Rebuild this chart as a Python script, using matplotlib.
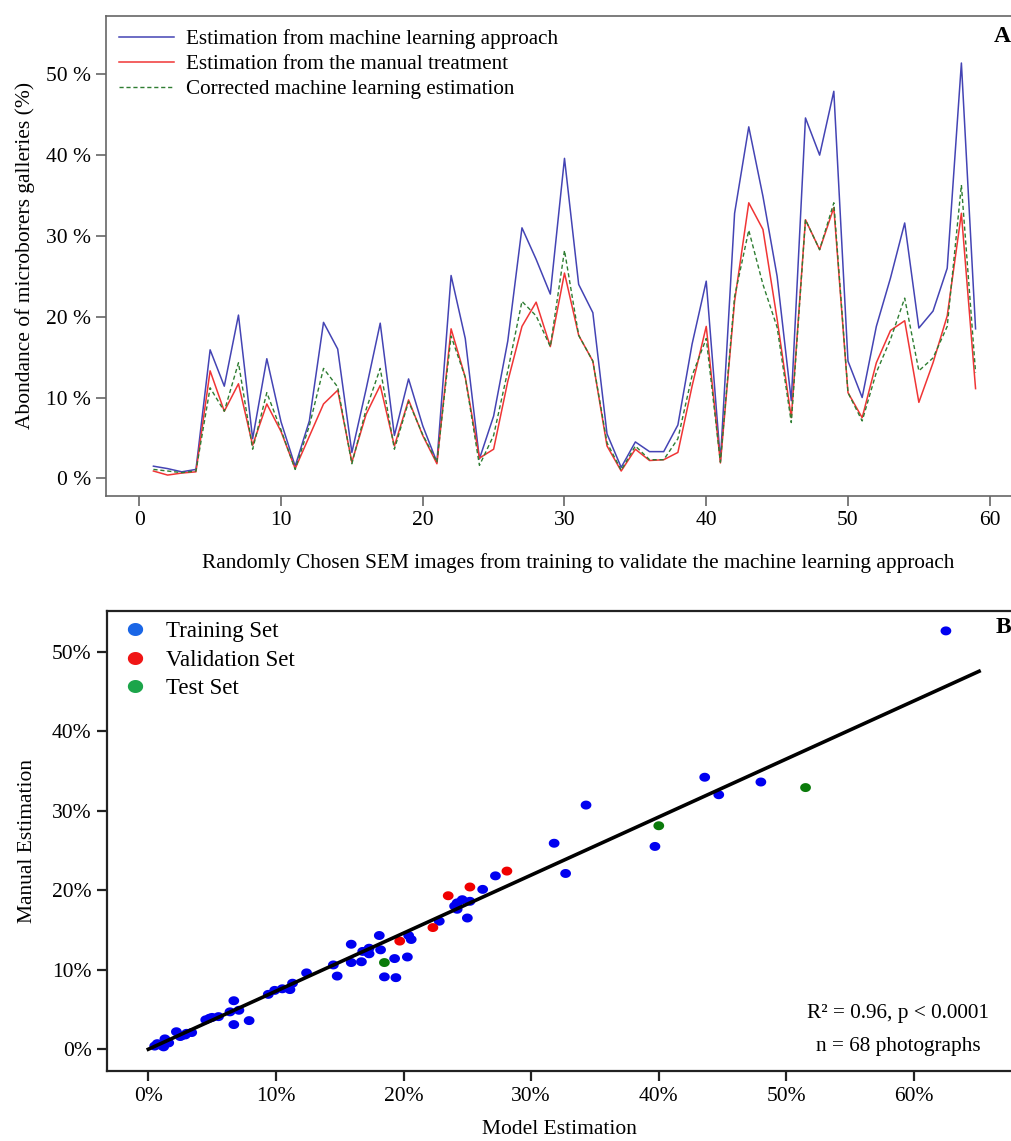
import matplotlib
matplotlib.use("Agg")
import numpy as np
import matplotlib.pyplot as plt
from matplotlib.ticker import FuncFormatter
from matplotlib.lines import Line2D

plt.rcParams['font.family'] = ['Liberation Serif', 'DejaVu Serif']

# ---------------- Panel A data ----------------
image_idx = list(range(1, 60))
ml_est = [1.5, 1.2, 0.8, 1.1, 15.9, 11.4, 20.2, 4.9, 14.8, 7.0,
          1.5, 7.1, 19.3, 16.0, 3.2, 11.0, 19.2, 5.3, 12.3, 6.5,
          2.0, 25.1, 17.3, 2.4, 7.7, 17.0, 31.0, 27.1, 22.8, 39.6,
          24.0, 20.5, 5.5, 1.35, 4.5, 3.3, 3.3, 6.6, 16.6, 24.4,
          2.2, 32.8, 43.5, 34.9, 25.0, 9.6, 44.6, 40.0, 47.9, 14.5,
          10.0, 18.8, 24.8, 31.6, 18.6, 20.7, 26.0, 51.4, 18.5]
manual_est = [0.9, 0.4, 0.65, 0.8, 13.3, 8.3, 11.7, 4.1, 9.2, 5.8,
              1.2, 5.2, 9.2, 10.9, 2.0, 7.9, 11.5, 4.0, 9.7, 5.3,
              1.8, 18.5, 12.5, 2.5, 3.6, 12.0, 18.8, 21.8, 16.3, 25.4,
              17.7, 14.5, 4.0, 0.9, 3.6, 2.2, 2.3, 3.2, 11.4, 18.8,
              1.9, 21.9, 34.1, 30.8, 19.7, 7.5, 32.0, 28.3, 33.5, 10.6,
              7.5, 14.3, 18.3, 19.5, 9.4, 14.3, 20.1, 32.8, 11.1]
corrected_est = [1.1, 0.9, 0.7, 0.9, 11.2, 8.3, 14.3, 3.6, 10.6, 6.0,
                 1.1, 6.5, 13.6, 11.3, 1.8, 8.5, 13.6, 3.6, 9.5, 5.4,
                 2.0, 17.6, 12.5, 1.6, 5.3, 13.3, 21.9, 20.1, 16.3, 28.2,
                 17.7, 14.5, 4.4, 1.0, 4.0, 2.3, 2.3, 4.9, 12.7, 17.3,
                 2.0, 22.5, 30.7, 24.0, 18.7, 6.9, 32.0, 28.3, 34.1, 10.6,
                 7.1, 13.1, 17.2, 22.3, 13.3, 14.9, 18.8, 36.3, 13.1]

# ---------------- Panel B data ----------------
train_x = [62.5, 43.6, 44.7, 48.0, 34.3, 31.8, 32.7, 39.7,
           27.2, 26.2, 24.2, 24.6, 25.2, 24.2, 25.0, 22.8, 18.1, 15.9,
           20.4, 20.6, 17.3, 18.2, 17.3, 16.7, 15.9, 14.5, 19.3, 20.3,
           12.4, 14.8, 18.5, 19.4,
           11.3, 11.1, 9.9, 9.4, 6.7, 6.4, 7.1, 6.7, 7.9, 5.5, 5.0, 4.5,
           3.4, 2.9, 2.5, 2.2, 1.3, 1.2, 0.7, 1.6,
           3.0, 1.0, 0.5, 4.8, 10.5, 2.6, 16.8, 24.0]
train_y = [52.6, 34.2, 32.0, 33.6, 30.7, 25.9, 22.1, 25.5,
           21.8, 20.1, 18.4, 18.8, 18.6, 17.6, 16.5, 16.1, 14.3, 13.2,
           14.3, 13.8, 12.7, 12.5, 12.0, 11.0, 10.9, 10.6, 11.4, 11.6,
           9.6, 9.2, 9.1, 9.0,
           8.3, 7.5, 7.4, 6.9, 6.1, 4.7, 4.9, 3.1, 3.6, 4.1, 4.0, 3.7,
           2.1, 1.8, 1.6, 2.2, 1.3, 0.3, 0.7, 0.8,
           2.0, 0.5, 0.4, 3.9, 7.6, 1.7, 12.3, 18.0]
valid_x = [28.1, 25.2, 23.5, 22.3, 19.7]
valid_y = [22.4, 20.4, 19.3, 15.3, 13.6]
test_x = [51.5, 40.0, 18.5]
test_y = [32.9, 28.1, 10.9]
fit_x = [0.0, 65.1]
fit_slope = 0.73

# slightly wide elliptical dot, like the reference
_t = np.linspace(0, 2 * np.pi, 48)
ellipse = np.column_stack([1.2 * np.cos(_t), 1.0 * np.sin(_t)])

fig = plt.figure(figsize=(10.11, 11.41), dpi=100)

# ---------------- Panel A ----------------
axA = fig.add_axes([0.1045, 0.5653, 0.8955, 0.4209])
axA.plot(image_idx, ml_est, color='#4444B4', lw=1.1,
         label='Estimation from machine learning approach')
axA.plot(image_idx, manual_est, color='#F03535', lw=1.1,
         label='Estimation from the manual treatment')
axA.plot(image_idx, corrected_est, color='#2E7D32', lw=1.0, ls=(0, (3, 2)),
         label='Corrected machine learning estimation')
axA.set_xlim(-2.37, 61.5)
axA.set_ylim(-2.19, 57.25)
axA.set_xticks([0, 10, 20, 30, 40, 50, 60])
axA.set_yticks([0, 10, 20, 30, 40, 50])
axA.yaxis.set_major_formatter(FuncFormatter(lambda v, p: f"{int(v)} %"))
for s in ['left', 'bottom', 'top']:
    axA.spines[s].set_color('#666666')
    axA.spines[s].set_linewidth(1.2)
axA.spines['right'].set_visible(False)
axA.tick_params(axis='both', direction='out', length=7, width=1.2,
                color='#666666', labelsize=15.5)
axA.tick_params(axis='y', pad=3.5)
axA.tick_params(axis='x', pad=4)
axA.set_ylabel('Abondance of microborers galleries (%)', fontsize=15.5, labelpad=8)
axA.set_xlabel('Randomly Chosen SEM images from training to validate the machine learning approach',
               fontsize=15.3)
axA.xaxis.set_label_coords(0.522, -0.118)
axA.legend(loc='upper left', frameon=False, fontsize=15.2, handlelength=2.6,
           handletextpad=0.57, labelspacing=0.25, borderaxespad=0.25,
           bbox_to_anchor=(0.0, 1.0))
axA.text(0.9995, 0.956, 'A', transform=axA.transAxes, fontsize=17,
         fontweight='bold', ha='right', va='center')

# ---------------- Panel B ----------------
axB = fig.add_axes([0.1058, 0.0616, 0.8942, 0.4029])
axB.scatter(train_x, train_y, s=60, marker=ellipse, color='#0000F0',
            edgecolors='none', zorder=3)
axB.scatter(valid_x, valid_y, s=60, marker=ellipse, color='#F00000',
            edgecolors='none', zorder=3)
axB.scatter(test_x, test_y, s=60, marker=ellipse, color='#0A7A0A',
            edgecolors='none', zorder=3)
axB.plot(fit_x, [fit_slope * v for v in fit_x], color='black', lw=2.6, zorder=4)
axB.set_xlim(-3.24, 67.6)
axB.set_ylim(-2.7, 55.1)
axB.set_xticks([0, 10, 20, 30, 40, 50, 60])
axB.set_yticks([0, 10, 20, 30, 40, 50])
pct = FuncFormatter(lambda v, p: f"{int(v)}%")
axB.xaxis.set_major_formatter(pct)
axB.yaxis.set_major_formatter(pct)
for s in ['left', 'bottom', 'top']:
    axB.spines[s].set_color('#222222')
    axB.spines[s].set_linewidth(1.6)
axB.spines['right'].set_visible(False)
axB.tick_params(axis='both', direction='out', length=7, width=1.6,
                color='#222222', labelsize=15.5)
axB.tick_params(axis='y', pad=4)
axB.tick_params(axis='x', pad=5)
axB.set_ylabel('Manual Estimation', fontsize=15.5, labelpad=11)
axB.set_xlabel('Model Estimation', fontsize=15.5, labelpad=10)
leg_marker = ellipse
handles = [Line2D([], [], ls='none', marker=leg_marker, ms=10, color='#1A66E6'),
           Line2D([], [], ls='none', marker=leg_marker, ms=10, color='#F01515'),
           Line2D([], [], ls='none', marker=leg_marker, ms=10, color='#1CA54A')]
axB.legend(handles, ['Training Set', 'Validation Set', 'Test Set'],
           loc='upper left', frameon=False, fontsize=16.5, handlelength=1.0,
           handletextpad=0.85, labelspacing=0.32, borderaxespad=0.05,
           bbox_to_anchor=(0.007, 1.0))
axB.text(1.0, 0.965, 'B', transform=axB.transAxes, fontsize=17,
         fontweight='bold', ha='right', va='center')
axB.text(0.875, 0.125, 'R² = 0.96, p < 0.0001', transform=axB.transAxes,
         fontsize=15.3, ha='center', va='center')
axB.text(0.875, 0.053, 'n = 68 photographs', transform=axB.transAxes,
         fontsize=15.3, ha='center', va='center')

fig.savefig('out.png', dpi=100)
